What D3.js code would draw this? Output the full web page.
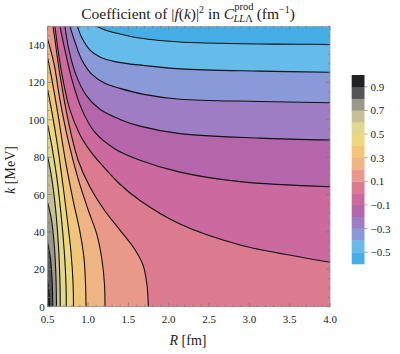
<!DOCTYPE html>
<html><head><meta charset="utf-8">
<script src="https://cdn.jsdelivr.net/npm/d3@7/dist/d3.min.js"></script>
<style>
body{margin:0;background:#fff}
text{font-family:"Liberation Serif","DejaVu Serif",serif;fill:#222}
</style></head>
<body><svg id="chart" width="400" height="354"></svg>
<script>
// ---- data ----
const xDomain = [0.5, 4.0];
const yDomain = [0, 150];
const xTicks = [0.5,1.0,1.5,2.0,2.5,3.0,3.5,4.0];
const yTicks = [0,20,40,60,80,100,120,140];
const colorbarTicks = [-0.5,-0.3,-0.1,0.1,0.3,0.5,0.7,0.9];
const bandEdges = [-0.6,-0.5,-0.4,-0.3,-0.2,-0.1,0.0,0.1,0.2,0.3,0.4,0.5,0.6,0.7,0.8,0.9,1.0];
const bandColors = ["#45aee6","#65bbe9","#8a9ad8","#9f7dc4","#b566ab","#cc6a9f","#dc7b8f","#e8998a","#eeb482","#f1c57a","#eed87e","#e0d88e","#c7bf96","#9b988a","#555456","#222222"];

// contour lines [R (fm), k (MeV)], ordered from top/left edge to bottom/right edge
const lineM05 = [[1.11,150],[1.21,148],[1.37,146.2],[1.64,143.7],[1.89,142.4],[2.14,141.6],[2.64,140.9],[3.13,140.5],[3.63,140.4],[4.0,140.3]];
const lineM04 = [[0.869,150],[0.925,143.7],[1.024,137.3],[1.148,133.6],[1.334,131.1],[1.694,129.0],[2.14,127.2],[3.132,126.0],[4.0,125.4]];
const lineM03 = [[0.776,150],[0.838,141.6],[0.925,131.9],[1.049,124.3],[1.21,119.5],[1.396,116.8],[1.694,113.6],[2.14,111],[3.132,109.8],[4.0,109.1]];
const lineM02 = [[0.714,150],[0.764,137.3],[0.851,124],[0.975,113.2],[1.148,105.6],[1.396,100.2],[1.644,96.6],[2.14,92.6],[3.132,90.2],[4.0,89.2]];
const lineM01 = [[0.652,150],[0.714,137.3],[0.801,121.3],[0.925,105.3],[1.086,93.2],[1.334,84.4],[1.644,78.4],[2.14,72],[2.884,66.9],[4.0,64.2]];
const line00 = [[0.59,150],[0.628,137.3],[0.69,121.3],[0.776,105.3],[0.9,92],[1.024,83.5],[1.157,76.5],[1.396,65.5],[1.644,56.8],[2.14,44.2],[2.884,33],[3.632,26.6],[4.0,23.8]];
const line01 = [[0.566,150],[0.59,142.7],[0.652,124],[0.752,99.9],[0.876,78.5],[1.024,64],[1.21,51.2],[1.396,41],[1.582,30.5],[1.682,22.3],[1.731,11.6],[1.747,0]];
const line02 = [[0.5,143],[0.578,130],[0.652,110.6],[0.752,89.2],[0.876,68.5],[1.0,52],[1.111,38.4],[1.173,25],[1.204,12],[1.21,0]];
const line03 = [[0.5,133],[0.553,121.3],[0.628,102.6],[0.714,79.5],[0.814,57.1],[0.9,40],[0.95,26],[0.969,12],[0.975,0]];
const line04 = [[0.5,116],[0.553,104],[0.615,88],[0.677,69],[0.739,48],[0.789,29],[0.814,13],[0.82,0]];
const line05 = [[0.5,97.2],[0.553,85.5],[0.615,68.5],[0.671,47],[0.708,28],[0.727,12],[0.73,0]];
const line06 = [[0.5,80.1],[0.547,69.5],[0.597,52.5],[0.634,32],[0.652,13],[0.656,0]];
const line07 = [[0.5,55.5],[0.547,46.5],[0.584,31.5],[0.603,15],[0.609,0]];
const line08 = [[0.5,34.1],[0.535,25.5],[0.557,12],[0.563,0]];
const line09 = [[0.5,13.2],[0.516,7.5],[0.524,0]];
const contourLines = [
  {level:-0.5, pts:lineM05},{level:-0.4, pts:lineM04},{level:-0.3, pts:lineM03},
  {level:-0.2, pts:lineM02},{level:-0.1, pts:lineM01},{level:0.0, pts:line00},
  {level:0.1, pts:line01},{level:0.2, pts:line02},{level:0.3, pts:line03},
  {level:0.4, pts:line04},{level:0.5, pts:line05},{level:0.6, pts:line06},
  {level:0.7, pts:line07},{level:0.8, pts:line08},{level:0.9, pts:line09}
];

// ---- layout ----
const svg = d3.select("#chart");
const plot = {left:47.7, right:330, top:26.3, bottom:306.7};
const x = d3.scaleLinear().domain(xDomain).range([plot.left, plot.right]);
const y = d3.scaleLinear().domain(yDomain).range([plot.bottom, plot.top]);
const bandAbove = v => bandEdges.findIndex(e => Math.abs(e - v) < 1e-9);

svg.append("clipPath").attr("id","clip").append("rect")
  .attr("x",plot.left).attr("y",plot.top).attr("width",plot.right-plot.left).attr("height",plot.bottom-plot.top);
const g = svg.append("g").attr("clip-path","url(#clip)");
g.append("rect").attr("x",plot.left).attr("y",plot.top).attr("width",plot.right-plot.left).attr("height",plot.bottom-plot.top)
  .attr("fill", bandColors[0]);

const lineGen = d3.line().x(d=>x(d[0])).y(d=>y(d[1])).curve(d3.curveCatmullRom.alpha(0.5));
const pathOf = c => lineGen(c.pts);
// high side of each line lies towards low R / low k
contourLines.forEach(c=>{
  const closure = [[4.3,-10],[0.3,-10],[0.3,165]];
  const p = pathOf(c) + closure.map(q=>"L"+x(q[0])+","+y(q[1])).join("") + "Z";
  g.append("path").attr("d",p).attr("fill",bandColors[bandAbove(c.level)]);
});
contourLines.forEach(c=>{
  g.append("path").attr("d",pathOf(c)).attr("fill","none").attr("stroke","#111").attr("stroke-width",1.1);
});

// frame
svg.append("rect").attr("x",plot.left).attr("y",plot.top).attr("width",plot.right-plot.left).attr("height",plot.bottom-plot.top)
  .attr("fill","none").attr("stroke","#9a9a9a").attr("stroke-width",0.8);

// ticks (inside, on all four sides)
const xMinor = d3.range(5,41).map(i=>i/10).filter(v=>Math.abs(v*2-Math.round(v*2))>1e-6);
const yMinor = d3.range(0,151,5).filter(v=>v%20!==0);
const tk = svg.append("g").attr("stroke","#777").attr("stroke-width",0.7);
xTicks.forEach(v=>{ tk.append("line").attr("x1",x(v)).attr("x2",x(v)).attr("y1",plot.bottom).attr("y2",plot.bottom-4);
  tk.append("line").attr("x1",x(v)).attr("x2",x(v)).attr("y1",plot.top).attr("y2",plot.top+4);});
xMinor.forEach(v=>{ tk.append("line").attr("x1",x(v)).attr("x2",x(v)).attr("y1",plot.bottom).attr("y2",plot.bottom-2);
  tk.append("line").attr("x1",x(v)).attr("x2",x(v)).attr("y1",plot.top).attr("y2",plot.top+2);});
yTicks.forEach(v=>{ tk.append("line").attr("y1",y(v)).attr("y2",y(v)).attr("x1",plot.left).attr("x2",plot.left+4);
  tk.append("line").attr("y1",y(v)).attr("y2",y(v)).attr("x1",plot.right).attr("x2",plot.right-4);});
yMinor.forEach(v=>{ tk.append("line").attr("y1",y(v)).attr("y2",y(v)).attr("x1",plot.left).attr("x2",plot.left+2);
  tk.append("line").attr("y1",y(v)).attr("y2",y(v)).attr("x1",plot.right).attr("x2",plot.right-2);});

// tick labels
svg.append("g").selectAll("text").data(xTicks).join("text")
  .attr("x",d=>x(d)).attr("y",plot.bottom+16).attr("text-anchor","middle").attr("font-size",11)
  .text(d=>d.toFixed(1));
svg.append("g").selectAll("text").data(yTicks).join("text")
  .attr("x",plot.left-3).attr("y",d=>y(d)+4).attr("text-anchor","end").attr("font-size",11)
  .text(d=>d);

// axis titles
const xt = svg.append("text").attr("x",188).attr("y",345).attr("text-anchor","middle").attr("font-size",14);
xt.append("tspan").attr("font-style","italic").text("R");
xt.append("tspan").text(" [fm]");
const yt = svg.append("text").attr("transform","translate(15,170) rotate(-90)").attr("text-anchor","middle").attr("font-size",14);
yt.append("tspan").attr("font-style","italic").text("k");
yt.append("tspan").text(" [MeV]");

// title
const tt = svg.append("text").attr("x",188).attr("y",19).attr("text-anchor","middle").attr("font-size",15.5);
tt.append("tspan").text("Coefficient of |");
tt.append("tspan").attr("font-style","italic").text("f");
tt.append("tspan").text("(");
tt.append("tspan").attr("font-style","italic").text("k");
tt.append("tspan").text(")|");
tt.append("tspan").attr("dy",-6).attr("font-size",10).text("2");
tt.append("tspan").attr("dy",6).text(" in ");
tt.append("tspan").attr("font-style","italic").text("C");
tt.append("tspan").attr("dy",-9.5).attr("font-size",10.5).text("prod");
tt.append("tspan").attr("dy",12.5).attr("dx",-20).attr("font-size",10.5).attr("font-style","italic").text("LL");
tt.append("tspan").attr("font-size",10.5).text("Λ");
tt.append("tspan").attr("dy",-3).text(" (fm");
tt.append("tspan").attr("dy",-6).attr("font-size",10).text("−1");
tt.append("tspan").attr("dy",6).text(")");

// colorbar
const cb = {x:351.7, w:12.8, top:75, bottom:264};
const cy = d3.scaleLinear().domain([-0.6,1.0]).range([cb.bottom, cb.top]);
svg.append("g").selectAll("rect").data(bandColors).join("rect")
  .attr("x",cb.x).attr("width",cb.w)
  .attr("y",(d,i)=>cy(bandEdges[i+1])).attr("height",(d,i)=>cy(bandEdges[i])-cy(bandEdges[i+1])+0.3)
  .attr("fill",d=>d);
colorbarTicks.forEach(v=>{
  svg.append("line").attr("x1",cb.x+cb.w).attr("x2",cb.x+cb.w+3).attr("y1",cy(v)).attr("y2",cy(v)).attr("stroke","#777").attr("stroke-width",0.7);
});
svg.append("g").selectAll("text").data(colorbarTicks).join("text")
  .attr("x",cb.x+cb.w+6).attr("y",d=>cy(d)+4).attr("font-size",11)
  .text(d=>(d<0?"−":"")+Math.abs(d).toFixed(1));
</script></body></html>
